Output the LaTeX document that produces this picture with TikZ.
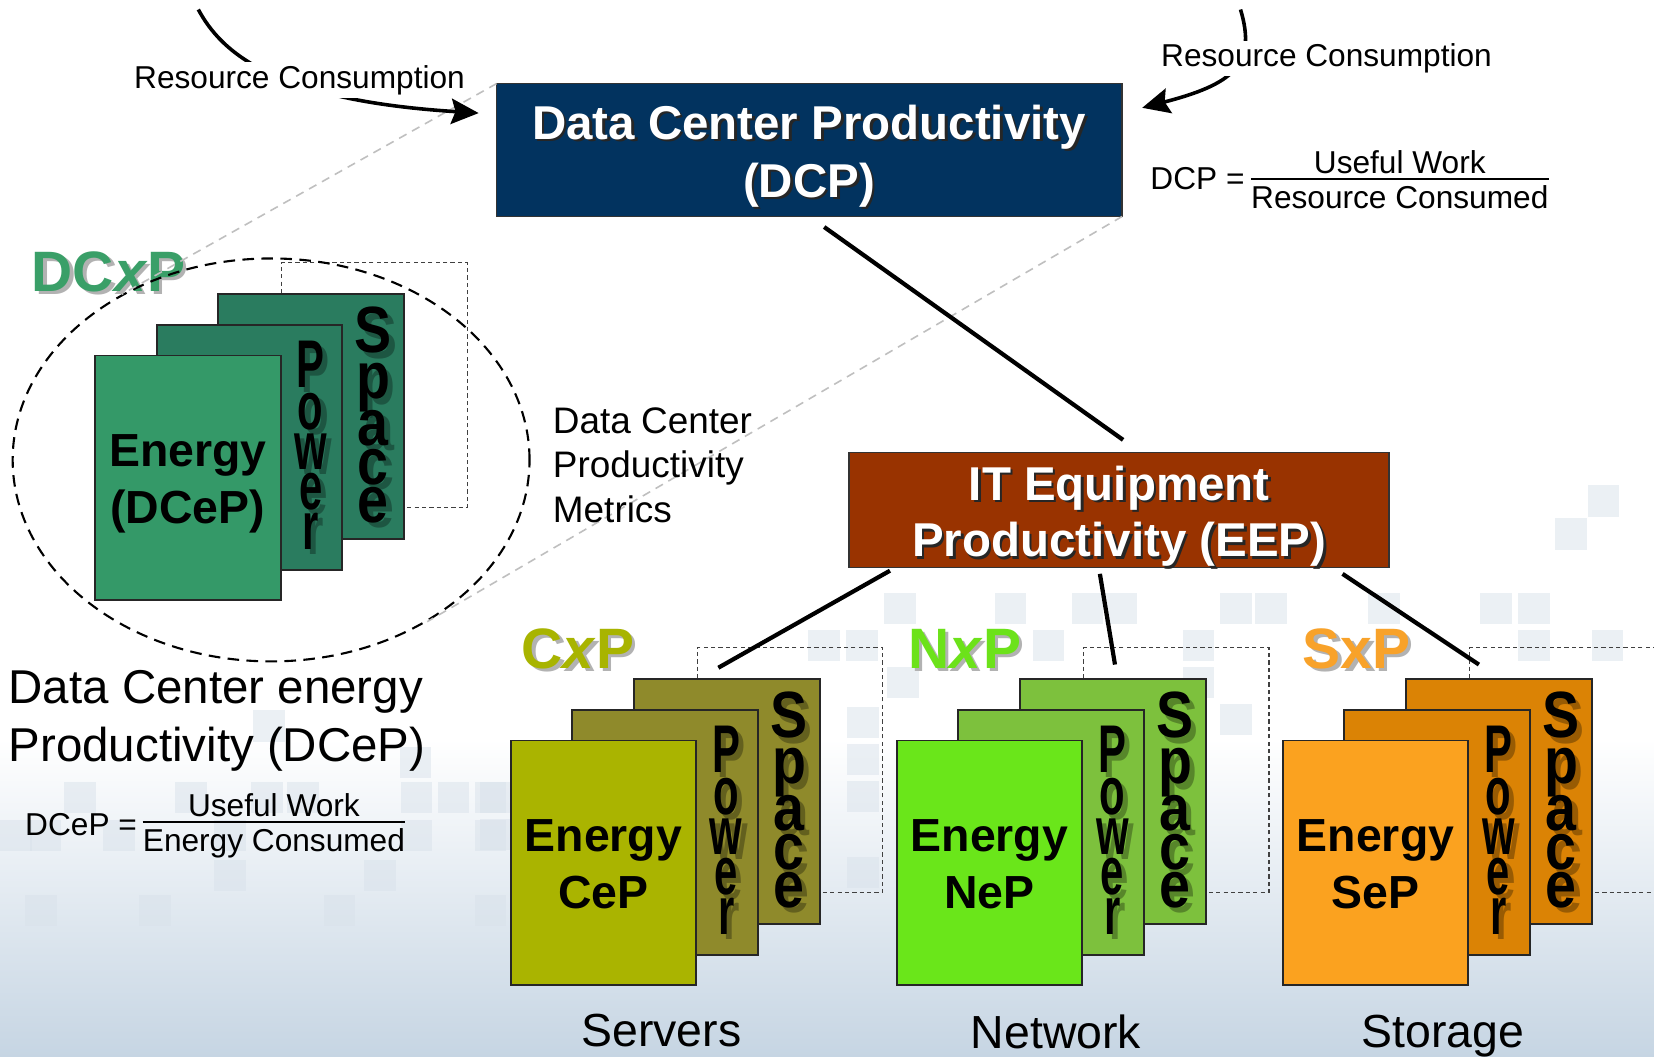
\documentclass[tikz,border=0pt]{standalone}
\usepackage{fontspec}
\setmainfont{Liberation Sans}
\usepackage{graphicx}
\usetikzlibrary{arrows.meta,calc,shapes.geometric}

\definecolor{dcpblue}{HTML}{02335F}
\definecolor{eepbrown}{HTML}{993300}
\definecolor{dcgreen}{HTML}{349968}
\definecolor{dcgreenback}{HTML}{2A7C5F}
\definecolor{cgreen}{HTML}{AAB400}
\definecolor{cback}{HTML}{8F8A2B}
\definecolor{ngreen}{HTML}{6AE61A}
\definecolor{nback}{HTML}{7DC13D}
\definecolor{sorange}{HTML}{FBA21F}
\definecolor{sback}{HTML}{DB8305}
\definecolor{dclabel}{HTML}{3A9F68}
\definecolor{clabel}{HTML}{A8B400}
\definecolor{nlabel}{HTML}{6CE21A}
\definecolor{slabel}{HTML}{F8A22A}
\definecolor{bgblue}{HTML}{C6D5E3}
\definecolor{bgsqc}{HTML}{D9E2EB}

\newcommand\CardGroup[6]{%
  \node[dashrect] (#1d) at (#2+177,#3-88) {};
  \node[card, fill=#5] (#1s) at (#2+117,#3-58) {};
  \foreach \ch/\dy [count=\i] in {S/55.5,p/99,a/143,c/180.5,e/216}{%
    \node[slet, lshadow] (#1ss\i) at ($(#1s.north east)+(-24,\dy+5)$) {\scalebox{0.85}[1]{\ch}};
    \node[slet] (#1sl\i) at ($(#1s.north east)+(-29,\dy)$) {\scalebox{0.85}[1]{\ch}};
  }
  \node[card, fill=#5] (#1p) at (#2+58.5,#3-29) {};
  \foreach \ch/\dy [count=\i] in {P/59,o/99,w/137,e/175,r/213}{%
    \node[plet, lshadow] (#1ps\i) at ($(#1p.north east)+(-25,\dy+5)$) {\scalebox{0.62}[1]{\ch}};
    \node[plet] (#1pl\i) at ($(#1p.north east)+(-30,\dy)$) {\scalebox{0.62}[1]{\ch}};
  }
  \node[card, fill=#4] (#1e) at (#2,#3) {};
  \node[entext] (#1e1) at ($(#1e.north)+(0,105)$) {Energy};
  \node[entext] (#1e2) at ($(#1e.north)+(0,159)$) {#6};
}

\begin{document}
\begin{tikzpicture}[x=1pt,y=-1pt,
  card/.style={draw=black!85, line width=1.8pt, minimum width=176pt, minimum height=232pt, inner sep=0pt, outer sep=0pt, anchor=north west},
  dashrect/.style={draw=black!75, line width=1pt, dash pattern=on 4pt off 3pt, minimum width=176pt, minimum height=232pt, inner sep=0pt, outer sep=0pt, anchor=north west},
  entext/.style={font=\fontsize{44}{50}\selectfont\bfseries, anchor=base, inner sep=0pt},
  plet/.style={font=\fontsize{64}{64}\selectfont\bfseries, anchor=base, inner sep=0pt},
  slet/.style={font=\fontsize{62}{62}\selectfont\bfseries, anchor=base, inner sep=0pt},
  lshadow/.style={text=black, opacity=0.3},
  title/.style={font=\fontsize{45}{54}\selectfont\bfseries, text=white, anchor=base, inner sep=0pt},
  titlesh/.style={title, text=black!85},
  xplabel/.style={font=\fontsize{54}{60}\selectfont\bfseries, anchor=base west, inner sep=0pt},
  xpshadow/.style={xplabel, text=black!30},
  bigtext/.style={font=\fontsize{45}{54}\selectfont, anchor=base west, inner sep=0pt},
  sidetext/.style={font=\fontsize{35}{42}\selectfont, anchor=base west, inner sep=0pt},
  bottomlabel/.style={font=\fontsize{44}{50}\selectfont, anchor=base, inner sep=0pt},
  frm/.style={font=\fontsize{30}{36}\selectfont, inner sep=0pt},
  rclabel/.style={font=\fontsize{30}{36}\selectfont, anchor=base west, inner sep=3pt, fill=white},
  fracbar/.style={line width=2pt},
  rcarrow/.style={line width=3.4pt, -{Stealth[length=26pt,width=24pt,inset=4pt]}},
  link/.style={line width=4pt},
  zoomline/.style={draw=black!25, line width=1.5pt, dash pattern=on 8pt off 6pt},
  bgsq/.style={fill=bgsqc, opacity=0.5}
]
\useasboundingbox (0,0) rectangle (1568,1002);
% background
\fill[white] (0,0) rectangle (1568,1002);
\shade[top color=white, bottom color=bgblue] (0,700) rectangle (1568,1002);
\foreach \sx/\sy in {1505/460,1474/491,1297/562,1403/562,1439/562,1439/597,1509/597,
  838/562,943/562,1016/562,1048/562,1157/562,1190/562,1121/597,766/597,802/597,979/597,
  841/632,1121/632,1157/667,803/670,803/705,803/740,803/812,
  455/741,455/776,61/741,166/741,238/741,272/741,380/741,415/741,450/741,
  0/777,28/777,98/777,203/777,380/777,450/777,203/815,345/815,24/848,132/848,307/848,450/848,240/673,379/708}
  {\fill[bgsq] (\sx,\sy) rectangle ++(30,30);}

% labels of the four groups
\node[xpshadow] (dcxpsh) at (33,279.5) {DC\textit{x}P};
\node[xplabel, text=dclabel] (dcxp) at (30,276.5) {DC\textit{x}P};
\node[xpshadow] (cxpsh) at (497.5,636.6) {C\textit{x}P};
\node[xplabel, text=clabel] (cxp) at (494.5,633.6) {C\textit{x}P};
\node[xpshadow] (nxpsh) at (864,636.5) {N\textit{x}P};
\node[xplabel, text=nlabel] (nxp) at (861,633.5) {N\textit{x}P};
\node[xpshadow] (sxpsh) at (1238,636.5) {SxP};
\node[xplabel, text=slabel] (sxp) at (1235,633.5) {SxP};

% card groups
\CardGroup{dc}{90}{337}{dcgreen}{dcgreenback}{(DCeP)}
\CardGroup{cs}{484}{702}{cgreen}{cback}{CeP}
\CardGroup{nw}{850}{702}{ngreen}{nback}{NeP}
\CardGroup{st}{1216}{702}{sorange}{sback}{SeP}

% ellipse around DCxP
\node[ellipse, draw=black, line width=2pt, dash pattern=on 11pt off 7pt, minimum width=490pt, minimum height=382pt, inner sep=0pt] (ell) at (257,436) {};

% DCP box
\node[draw=black!80, line width=1.5pt, fill=dcpblue, minimum width=593pt, minimum height=126pt, inner sep=0pt, outer sep=0pt] (dcp) at (767.3,142.2) {};
\draw[zoomline] (dcp.north west) -- (ell.132.8);
\draw[zoomline] (dcp.south east) -- (ell.-46.4);
\node[titlesh] (dcpsh1) at (769.5,134.5) {Data Center Productivity};
\node[titlesh] (dcpsh2) at (769.5,189.5) {(DCP)};
\node[title] (dcpt1) at (767,132) {Data Center Productivity};
\node[title] (dcpt2) at (767,187) {(DCP)};

% EEP box
\node[draw=black!80, line width=1.5pt, fill=eepbrown, minimum width=512pt, minimum height=109pt, inner sep=0pt, outer sep=0pt] (eep) at (1060.7,483.5) {};
\node[titlesh] (eepsh1) at (1063.5,476.5) {IT Equipment};
\node[titlesh] (eepsh2) at (1063.5,530.2) {Productivity (EEP)};
\node[title] (eept1) at (1061,474) {IT Equipment};
\node[title] (eept2) at (1061,527.7) {Productivity (EEP)};

% connectors
\draw[link] ($(dcp.south)+(14,10)$) -- ($(eep.north)+(4,-12)$);
\draw[link] ($(eep.south west)+(39,3)$) -- ($(css.north)+(-8,-11)$);
\draw[link] ($(eep.south)+(-18,6)$) -- ($(nws.north)+(2,-14)$);
\draw[link] ($(eep.south east)+(-44,6)$) -- ($(sts.north)+(-19,-14)$);

% resource consumption arrows
\coordinate (rcl0) at (188,9);
\coordinate (rcr0) at (1176,9);
\draw[rcarrow] (rcl0) .. controls (210,50) and (260,95) .. ($(dcp.north west)+(-17,28)$);
\draw[rcarrow] (rcr0) .. controls (1192,62) and (1168,80) .. ($(dcp.north east)+(19,23)$);
\node[rclabel] (rcl) at (124,83.7) {Resource Consumption};
\node[rclabel] (rcr) at (1097.6,63.2) {Resource Consumption};

% DCP formula
\node[frm, anchor=base east] (dcpeq) at (1180,180) {DCP =};
\node[frm, anchor=base] (dcpnum) at (1327,164.3) {Useful Work};
\node[frm, anchor=base] (dcpden) at (1327,197.5) {Resource Consumed};
\draw[fracbar] ($(dcpden.base west)+(0,-27.8)$) -- ($(dcpden.base east)+(0,-27.8)$);

% DCeP text and formula
\node[bigtext] (dcep1) at (8,667) {Data Center energy};
\node[bigtext] (dcep2) at (8,722) {Productivity (DCeP)};
\node[frm, anchor=base east] (dceqeq) at (130,791.6) {DCeP =};
\node[frm, anchor=base] (dcenum) at (259.7,774) {Useful Work};
\node[frm, anchor=base] (dceden) at (259.7,807.4) {Energy Consumed};
\draw[fracbar] ($(dceden.base west)+(0,-27.9)$) -- ($(dceden.base east)+(0,-27.9)$);

% side text
\node[sidetext] (dcpm1) at (524,410.5) {Data Center};
\node[sidetext] (dcpm2) at (524,453) {Productivity};
\node[sidetext] (dcpm3) at (524,495) {Metrics};

% bottom labels
\node[bottomlabel] (servers) at (627,992) {Servers};
\node[bottomlabel] (network) at (1001,993.5) {Network};
\node[bottomlabel] (storage) at (1368,993) {Storage};
\end{tikzpicture}
\end{document}
